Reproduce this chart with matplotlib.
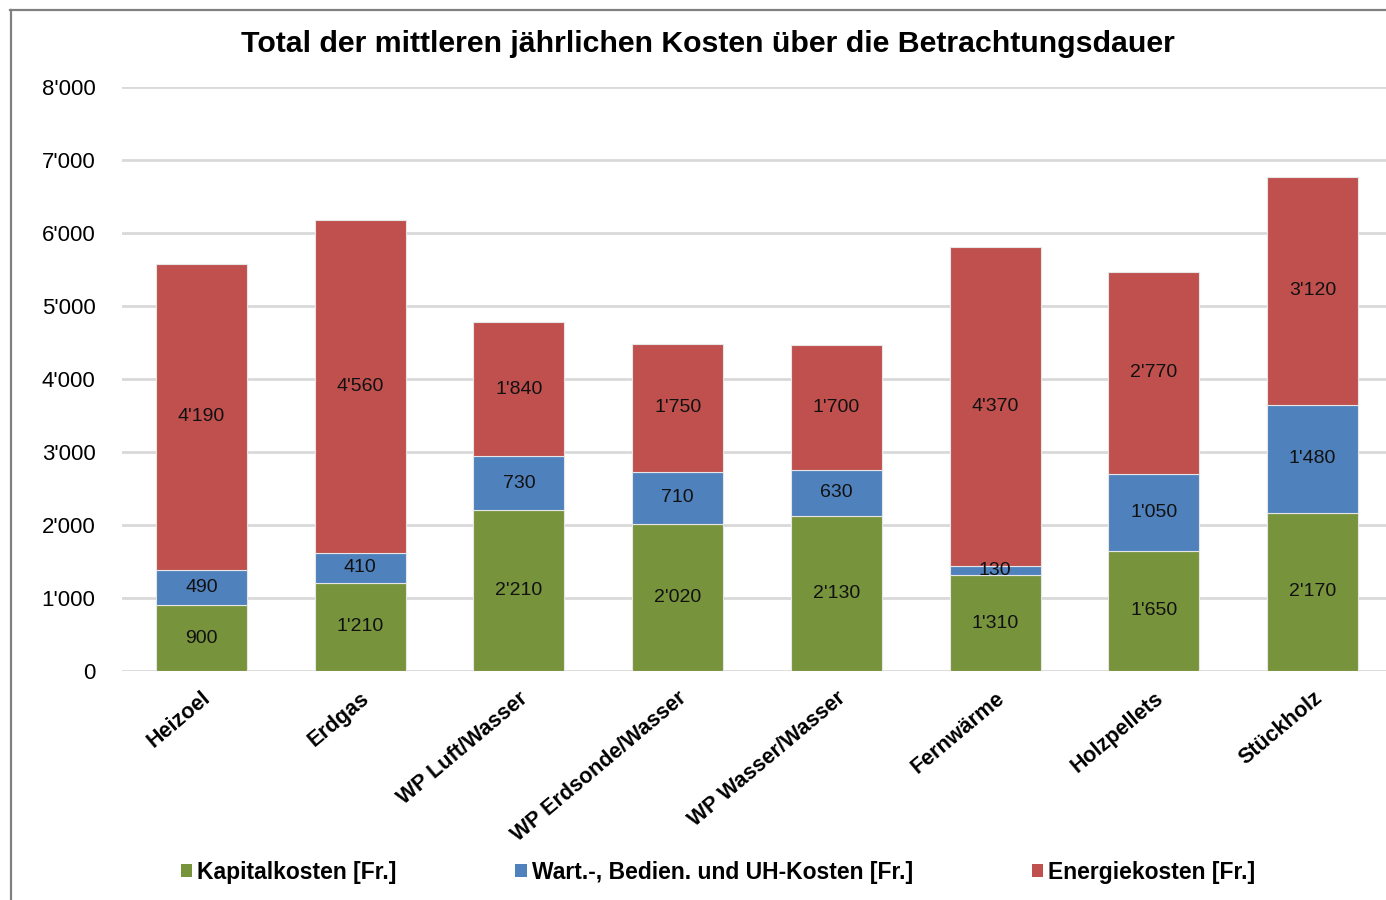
import matplotlib
matplotlib.use('Agg')
import matplotlib.pyplot as plt
from matplotlib.lines import Line2D
from matplotlib.patches import Patch
import numpy as np

plt.rcParams['font.family'] = ['Liberation Sans', 'DejaVu Sans']

# Daten
kategorien = ['Heizoel', 'Erdgas', 'WP Luft/Wasser', 'WP Erdsonde/Wasser',
              'WP Wasser/Wasser', 'Fernwärme', 'Holzpellets', 'Stückholz']
kapital = [900, 1210, 2210, 2020, 2130, 1310, 1650, 2170]
wartung = [490, 410, 730, 710, 630, 130, 1050, 1480]
energie = [4190, 4560, 1840, 1750, 1700, 4370, 2770, 3120]

serien = ['Kapitalkosten [Fr.]', 'Wart.-, Bedien. und UH-Kosten [Fr.]', 'Energiekosten [Fr.]']
farben = ['#77933C', '#4F81BD', '#C0504D']
y_ticks = [0, 1000, 2000, 3000, 4000, 5000, 6000, 7000, 8000]


def fmt(v):
    return f"{v:,}".replace(',', "'")


fig = plt.figure(figsize=(13.86, 9.0), dpi=100)
ax = fig.add_axes([122 / 1386, 1 - 671 / 900, (1392 - 122) / 1386, (671 - 87) / 900])

x = np.arange(len(kategorien))
breite = 0.573
unten = np.zeros(len(kategorien))
for werte, farbe in zip([kapital, wartung, energie], farben):
    ax.bar(x, werte, breite, bottom=unten, color=farbe, edgecolor='#E6E6E6',
           linewidth=0.8, zorder=3)
    for xi, b, v in zip(x, unten, werte):
        ax.text(xi, b + v / 2, fmt(v), ha='center', va='center', fontsize=14,
                color='#111111', zorder=4)
    unten += np.array(werte)

ax.set_xlim(-0.5, 7.5)
ax.set_ylim(0, 8000)
ax.set_yticks(y_ticks)
ax.set_yticklabels([fmt(v) for v in y_ticks], fontsize=16)
ax.yaxis.grid(True, color='#D9D9D9', linewidth=2, zorder=0)
ax.tick_params(axis='both', length=0)
ax.tick_params(axis='y', pad=19)
for s in ax.spines.values():
    s.set_visible(False)

ax.set_xticks(x)
ax.set_xticklabels(kategorien, rotation=40, ha='right', rotation_mode='anchor',
                   fontsize=15.5, fontweight='bold')
ax.tick_params(axis='x', pad=12)

fig.text(0.511, 1 - 44 / 900, 'Total der mittleren jährlichen Kosten über die Betrachtungsdauer',
         ha='center', va='center', fontsize=21.8, fontweight='bold')

handles = [Patch(facecolor=f, edgecolor='none') for f in farben]
fig.legend(handles, serien, loc='center', bbox_to_anchor=(0.518, 1 - 872 / 900), ncol=3,
           frameon=False, handlelength=0.5, handleheight=0.5, handletextpad=0.2,
           columnspacing=5.2, prop={'weight': 'bold', 'size': 16.5})

# Rahmen links und oben
fig.add_artist(Line2D([10.5 / 1386, 10.5 / 1386], [0, 1 - 10 / 900], color='#808080',
                      linewidth=1.6, transform=fig.transFigure))
fig.add_artist(Line2D([10 / 1386, 1], [1 - 10 / 900, 1 - 10 / 900], color='#808080',
                      linewidth=1.6, transform=fig.transFigure))

fig.savefig('out.png', dpi=100)
